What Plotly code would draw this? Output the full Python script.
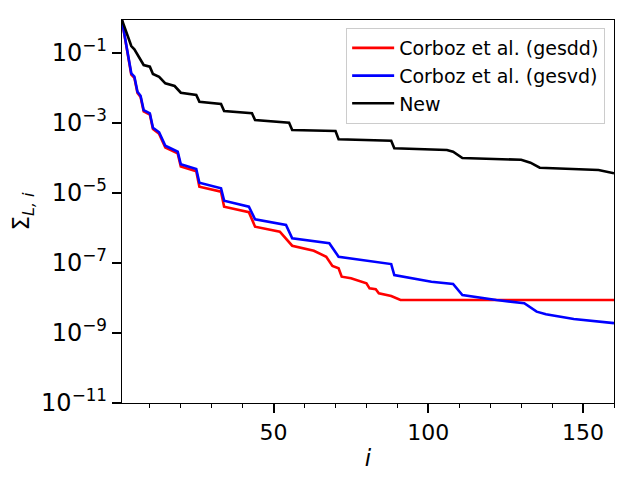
import plotly.graph_objects as go

# singular values (index i, value)
new_i = [1, 4, 5, 6, 7, 8, 10, 11, 13, 15, 18, 20, 25, 26, 33, 34, 43, 44, 55, 56,
         70, 71, 88, 89, 106, 108, 111, 130, 133, 136, 155, 160]
new_s = [0.877, 0.158, 0.128, 0.0877, 0.0661, 0.0454, 0.0407, 0.0251, 0.0209, 0.0136,
         0.0114, 7.35e-3, 6.31e-3, 4.07e-3, 3.49e-3, 2.20e-3, 1.91e-3, 1.22e-3, 1.02e-3,
         6.31e-4, 5.90e-4, 3.42e-4, 3.12e-4, 1.89e-4, 1.70e-4, 1.51e-4, 1.00e-4, 8.91e-5,
         7.35e-5, 5.28e-5, 4.54e-5, 3.66e-5]

gesvd_i = [1, 4, 5, 6, 7, 8, 10, 11, 13, 15, 19, 20, 25, 26, 33, 34, 42, 44, 54, 56,
           68, 71, 88, 89, 101, 108, 111, 122, 131, 135, 138, 147, 160]
gesvd_s = [0.832, 0.0263, 0.0210, 7.83e-3, 6.03e-3, 2.34e-3, 1.89e-3, 7.35e-4, 5.42e-4,
           2.24e-4, 1.51e-4, 6.61e-5, 4.85e-5, 1.97e-5, 1.36e-5, 6.03e-6, 4.07e-6, 1.78e-6,
           1.22e-6, 5.08e-7, 3.66e-7, 1.51e-7, 9.33e-8, 4.54e-8, 2.92e-8, 2.51e-8, 1.22e-8,
           8.77e-9, 7.08e-9, 4.07e-9, 3.42e-9, 2.51e-9, 1.91e-9]

gesdd_i = [1, 4, 5, 6, 7, 8, 10, 11, 13, 15, 19, 20, 25, 26, 33, 34, 42, 44, 52, 56,
           63, 67, 69, 71, 72, 75, 80, 81, 83, 84, 88, 91, 160]
gesdd_s = [0.832, 0.0240, 0.0195, 7.24e-3, 5.50e-3, 2.14e-3, 1.74e-3, 6.76e-4, 4.90e-4,
           2.00e-4, 1.35e-4, 5.75e-5, 4.17e-5, 1.51e-5, 1.09e-5, 4.07e-6, 2.82e-6, 1.09e-6,
           7.83e-7, 3.12e-7, 2.24e-7, 1.51e-7, 8.20e-8, 7.06e-8, 4.06e-8, 3.66e-8, 2.63e-8,
           1.89e-8, 1.77e-8, 1.36e-8, 1.14e-8, 8.77e-9, 8.77e-9]

x_ticks = [50, 100, 150]
y_ticks = [1e-1, 1e-3, 1e-5, 1e-7, 1e-9, 1e-11]
y_labels = ['10<sup>\u22121</sup>', '10<sup>\u22123</sup>', '10<sup>\u22125</sup>',
            '10<sup>\u22127</sup>', '10<sup>\u22129</sup>', '10<sup>\u221211</sup>']

FONT = 'DejaVu Sans'

fig = go.Figure()
fig.add_trace(go.Scatter(x=gesdd_i, y=gesdd_s, mode='lines', name='Corboz et al. (gesdd)',
                         line=dict(color='red', width=2.6)))
fig.add_trace(go.Scatter(x=gesvd_i, y=gesvd_s, mode='lines', name='Corboz et al. (gesvd)',
                         line=dict(color='blue', width=2.6)))
fig.add_trace(go.Scatter(x=new_i, y=new_s, mode='lines', name='New',
                         line=dict(color='black', width=2.6)))

# page body adds 8px offset, so the figure is a bit smaller than the window
fig.update_layout(
    width=632, height=472,
    margin=dict(l=114, r=26, t=12, b=77),
    paper_bgcolor='white', plot_bgcolor='white',
    font=dict(family=FONT, color='black'),
    showlegend=True,
    legend=dict(x=0.982, y=0.979, xanchor='right', yanchor='top', itemwidth=42,
                bgcolor='rgba(255,255,255,0.8)', bordercolor='#cccccc', borderwidth=1,
                font=dict(size=19, family=FONT), tracegroupgap=0),
    xaxis=dict(range=[1, 160], tickvals=x_ticks, ticks='outside', ticklen=9, tickwidth=1.5,
               tickcolor='black', showline=True, mirror=True, linecolor='black', linewidth=1.3,
               showgrid=False, zeroline=False, tickfont=dict(size=22), automargin=False,
               minor=dict(dtick=10, tick0=0, ticks='outside', ticklen=4, tickcolor='black',
                          tickwidth=1, showgrid=False),
               title=dict(text='<i>i</i>', font=dict(size=23), standoff=6)),
    yaxis=dict(type='log', range=[-11, -0.057], tickvals=y_ticks, ticktext=y_labels,
               ticks='outside', ticklen=9, tickwidth=1.5, tickcolor='black',
               showline=True, mirror=True, linecolor='black', linewidth=1.3,
               showgrid=False, zeroline=False, tickfont=dict(size=24), automargin=False,
               title=dict(text='\u03a3<sub><i>L, i</i></sub>', font=dict(size=23), standoff=10)),
)

fig.write_html("out.html")
